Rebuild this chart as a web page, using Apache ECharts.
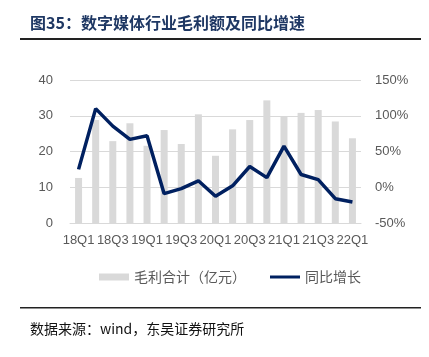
<!DOCTYPE html>
<html><head><meta charset="utf-8">
<script src="https://cdn.jsdelivr.net/npm/echarts@6/dist/echarts.min.js"></script>
<style>html,body{margin:0;padding:0;background:#fff}#c{width:429px;height:357px}</style>
</head><body><div id="c"></div>
<script>
const categories = ['18Q1','18Q2','18Q3','18Q4','19Q1','19Q2','19Q3','19Q4','20Q1','20Q2','20Q3','20Q4','21Q1','21Q2','21Q3','21Q4','22Q1'];
const grossProfit = [12.6,28.8,22.9,27.9,21.6,26.0,22.1,30.4,18.8,26.2,28.8,34.3,29.7,30.8,31.6,28.4,23.7];
const yoyGrowth = [25,110,85.5,67,72,-9,-2,9,-12.6,2,29,13.5,57.5,17.8,10.7,-16,-20.5];
const titleText = '图35：数字媒体行业毛利额及同比增速';
const sourceText = '数据来源：wind，东吴证券研究所';
const seriesNames = ['毛利合计（亿元）','同比增长'];

const chart = echarts.init(document.getElementById('c'));
const axisFont = {fontFamily:'Liberation Sans, Arial, sans-serif', fontSize:13, color:'#595959'};
chart.setOption({
  animation:false,
  grid:{left:70,right:68,top:80,bottom:134},
  legend:{
    left:94, top:265, itemGap:24,
    textStyle:{fontFamily:'Noto Sans CJK SC', fontSize:14, color:'#595959'},
    data:[
      {name:seriesNames[0], icon:'rect', itemStyle:{color:'#d9d9d9'}},
      {name:seriesNames[1], icon:'path://M0,0 M30,7 M0,2 L30,2 L30,5 L0,5 Z', itemStyle:{color:'#002060'}}
    ],
    itemWidth:30, itemHeight:7
  },
  xAxis:{
    type:'category', data:categories,
    axisTick:{show:false},
    axisLine:{lineStyle:{color:'#d9d9d9'}},
    axisLabel:Object.assign({interval:1, margin:11}, axisFont)
  },
  yAxis:[
    {type:'value', min:0, max:40, interval:10,
     axisLabel:Object.assign({margin:17}, axisFont),
     splitLine:{lineStyle:{color:'#d9d9d9'}}},
    {type:'value', min:-50, max:150, interval:50,
     axisLabel:Object.assign({margin:14, formatter:'{value}%'}, axisFont),
     splitLine:{show:false}}
  ],
  series:[
    {name:seriesNames[0], type:'bar', data:grossProfit, barWidth:7,
     itemStyle:{color:'#d9d9d9'}, yAxisIndex:0},
    {name:seriesNames[1], type:'line', data:yoyGrowth, yAxisIndex:1,
     symbol:'none', lineStyle:{width:3.5, color:'#002060'}, itemStyle:{color:'#002060'}}
  ],
  graphic:[
    {type:'text', left:30, top:15, style:{text:titleText, font:'bold 16px "Noto Sans CJK SC"', fill:'#1f3864'}},
    {type:'rect', shape:{x:20, y:38, width:401, height:2}, style:{fill:'#222'}},
    {type:'rect', shape:{x:20, y:307, width:401, height:1.5}, style:{fill:'#222'}},
    {type:'text', left:30, top:322, style:{text:sourceText, font:'14px "Noto Sans CJK SC"', fill:'#111'}}
  ]
});
</script></body></html>
